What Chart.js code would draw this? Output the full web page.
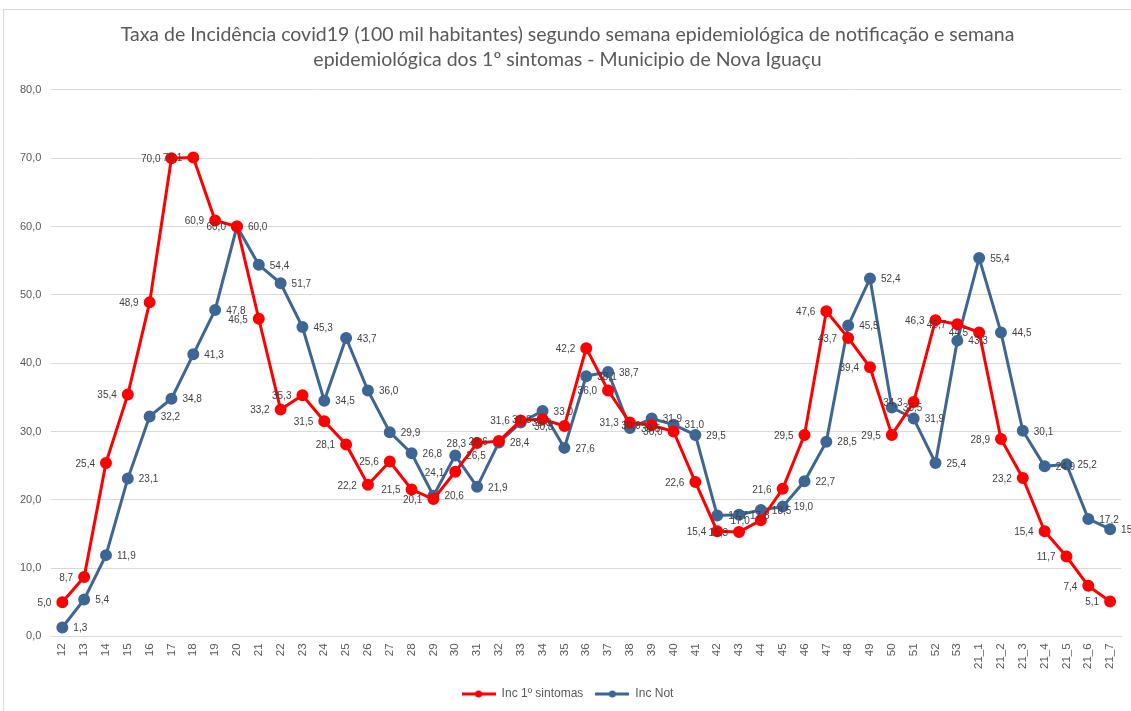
<!DOCTYPE html>
<html>
<head>
<meta charset="utf-8">
<script src="https://cdn.jsdelivr.net/npm/chart.js@4.4.1/dist/chart.umd.min.js"></script>
<style>
html,body{margin:0;padding:0;background:#fff;}
#wrap{position:absolute;left:0;top:0;width:1131px;height:711px;}
</style>
</head>
<body>
<div id="wrap"><canvas id="c" width="1131" height="711"></canvas></div>
<script>
const categories = ['12','13','14','15','16','17','18','19','20','21','22','23','24','25','26','27','28','29','30','31','32','33','34','35','36','37','38','39','40','41','42','43','44','45','46','47','48','49','50','51','52','53','21_1','21_2','21_3','21_4','21_5','21_6','21_7'];
const incSintomas = [5.0,8.7,25.4,35.4,48.9,70.0,70.1,60.9,60.0,46.5,33.2,35.3,31.5,28.1,22.2,25.6,21.5,20.1,24.1,28.3,28.6,31.6,31.8,30.8,42.2,36.0,31.3,30.9,30.0,22.6,15.4,15.3,17.0,21.6,29.5,47.6,43.7,39.4,29.5,34.3,46.3,45.7,44.5,28.9,23.2,15.4,11.7,7.4,5.1];
const incNot = [1.3,5.4,11.9,23.1,32.2,34.8,41.3,47.8,60.0,54.4,51.7,45.3,34.5,43.7,36.0,29.9,26.8,20.6,26.5,21.9,28.4,31.3,33.0,27.6,38.1,38.7,30.5,31.9,31.0,29.5,17.7,17.8,18.5,19.0,22.7,28.5,45.5,52.4,33.5,31.9,25.4,43.3,55.4,44.5,30.1,24.9,25.2,17.2,15.7];
const yTicks = {min:0, max:80, step:10};
const titleLines = ['Taxa de Incidência covid19 (100 mil habitantes) segundo semana epidemiológica de notificação e semana','epidemiológica dos 1º sintomas - Municipio de Nova Iguaçu'];

const fmt = v => v.toFixed(1).replace('.', ',');

function legendIcon(color){
  const cv = document.createElement('canvas');
  cv.width = 34; cv.height = 10;
  const g = cv.getContext('2d');
  g.strokeStyle = color; g.lineWidth = 3;
  g.beginPath(); g.moveTo(0,5); g.lineTo(34,5); g.stroke();
  g.fillStyle = color; g.beginPath(); g.arc(17,5,3.5,0,Math.PI*2); g.fill();
  return cv;
}

const frame = {
  id:'frame',
  beforeDraw(chart){
    const ctx = chart.ctx;
    ctx.save();
    ctx.fillStyle='#fff'; ctx.fillRect(0,0,chart.width,chart.height);
    ctx.strokeStyle='#d9d9d9'; ctx.lineWidth=1;
    ctx.strokeRect(3.5,9.5,1140,720);
    ctx.restore();
  }
};

const dataLabels = {
  id:'dataLabels',
  afterDatasetsDraw(chart){
    const ctx = chart.ctx;
    ctx.save();
    ctx.font = '10px "Liberation Sans", Arial, sans-serif';
    ctx.fillStyle = '#404040';
    ctx.textBaseline = 'middle';
    chart.data.datasets.forEach((ds, di) => {
      const meta = chart.getDatasetMeta(di);
      meta.data.forEach((pt, i) => {
        const v = ds.data[i];
        if (di === 0) { ctx.textAlign='right'; ctx.fillText(fmt(v), pt.x-11, pt.y+1); }
        else { ctx.textAlign='left'; ctx.fillText(fmt(v), pt.x+11, pt.y+1); }
      });
    });
    ctx.restore();
  }
};

new Chart(document.getElementById('c'), {
  type:'line',
  data:{
    labels: categories,
    datasets:[
      {label:'Inc 1º sintomas', data:incSintomas, borderColor:'#ff0000', backgroundColor:'#ff0000', borderWidth:3, pointRadius:4.5, pointHoverRadius:4.5, pointStyle:'circle', tension:0},
      {label:'Inc Not', data:incNot, borderColor:'#3d6694', backgroundColor:'#3d6694', borderWidth:3, pointRadius:4.5, pointHoverRadius:4.5, pointStyle:'circle', tension:0}
    ]
  },
  options:{
    responsive:false,
    animation:false,
    layout:{padding:{left:10,right:6,top:8,bottom:1}},
    plugins:{
      title:{display:true, text:titleLines, color:'#595959', font:{family:'Lato', size:19.5, weight:'normal', lineHeight:1.28}, padding:{top:14,bottom:18}},
      legend:{position:'bottom', labels:{usePointStyle:true, pointStyleWidth:34, color:'#595959', font:{family:'"Liberation Sans", Arial', size:12}, padding:12,
        generateLabels(chart){
          return chart.data.datasets.map((ds,i)=>({text:ds.label, fillStyle:ds.borderColor, strokeStyle:ds.borderColor, pointStyle:legendIcon(ds.borderColor), datasetIndex:i, lineWidth:0, fontColor:'#595959'}));
        }}},
      tooltip:{enabled:false}
    },
    scales:{
      x:{offset:true, grid:{display:false, drawTicks:false}, border:{display:true,color:'#d9d9d9'},
         ticks:{color:'#595959', font:{family:'"Liberation Sans", Arial', size:11.5}, minRotation:90, maxRotation:90, autoSkip:false, padding:7}},
      y:{min:yTicks.min, max:yTicks.max, grid:{color:'#d9d9d9', drawTicks:false}, border:{display:false},
         ticks:{stepSize:yTicks.step, color:'#595959', font:{family:'"Liberation Sans", Arial', size:11}, padding:10, callback:v=>fmt(v)}}
    }
  },
  plugins:[frame, dataLabels]
});
</script>
</body>
</html>
